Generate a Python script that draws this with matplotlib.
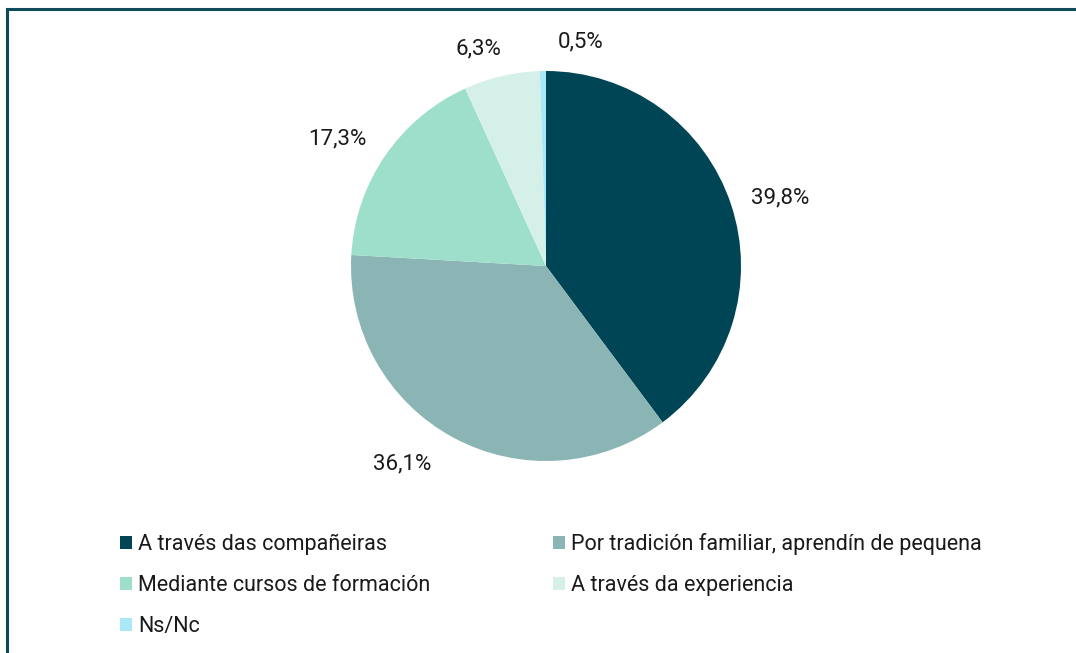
import matplotlib
matplotlib.use("Agg")
import matplotlib.pyplot as plt
from matplotlib.patches import Patch

plt.rcParams['font.family'] = ['Roboto', 'DejaVu Sans']

categories = ["A través das compañeiras",
              "Por tradición familiar, aprendín de pequena",
              "Mediante cursos de formación",
              "A través da experiencia",
              "Ns/Nc"]
values = [39.8, 36.1, 17.3, 6.3, 0.5]
labels = ["39,8%", "36,1%", "17,3%", "6,3%", "0,5%"]
colors = ["#004555", "#8BB5B4", "#9EDFCB", "#D5F0E9", "#A9E9F7"]

W, H = 1076, 653
fig = plt.figure(figsize=(W / 100, H / 100), dpi=100)

# frame border (top and left visible)
fig.add_artist(plt.Line2D([6.5 / W, 6.5 / W], [0, 1 - 8.5 / H], color="#0E4A5A", lw=2.2,
                          transform=fig.transFigure))
fig.add_artist(plt.Line2D([6.5 / W, 1], [1 - 8.5 / H, 1 - 8.5 / H], color="#0E4A5A", lw=2.2,
                          transform=fig.transFigure))

cx, cy, r = 546, 266, 195
ax = fig.add_axes([(cx - r) / W, (H - cy - r) / H, 2 * r / W, 2 * r / H])
wedges, texts = ax.pie(values, labels=labels, colors=colors, startangle=90,
                       counterclock=False, labeldistance=1.24,
                       textprops=dict(fontsize=16, color="#1a1a1a"),
                       wedgeprops=dict(linewidth=0))
# label nudges (data units, radius = 1) to mimic the reference placement
nudges = [(0.026, -0.041), (-0.149, 0.077), (-0.046, -0.051), (-0.067, -0.092), (0.195, -0.092)]
for t, (dx, dy) in zip(texts, nudges):
    t.set_horizontalalignment("center")
    t.set_verticalalignment("center")
    x, y = t.get_position()
    t.set_position((x + dx, y + dy))
ax.set_xlim(-1, 1)
ax.set_ylim(-1, 1)
ax.set_aspect("equal")
ax.axis("off")

order = [0, 2, 4, 1, 3]
handles = [Patch(facecolor=colors[i], edgecolor="none") for i in order]
leg = fig.legend(handles, [categories[i] for i in order], ncol=2,
                 loc="upper left", bbox_to_anchor=(120 / W, 1 - 533 / H),
                 frameon=False, fontsize=15.5, handlelength=0.55, handleheight=0.55,
                 handletextpad=0.3, columnspacing=5.68, labelspacing=0.94,
                 borderaxespad=0, borderpad=0)
for t in leg.get_texts():
    t.set_color("#1a1a1a")

fig.savefig("out.png", dpi=100, facecolor="white")
